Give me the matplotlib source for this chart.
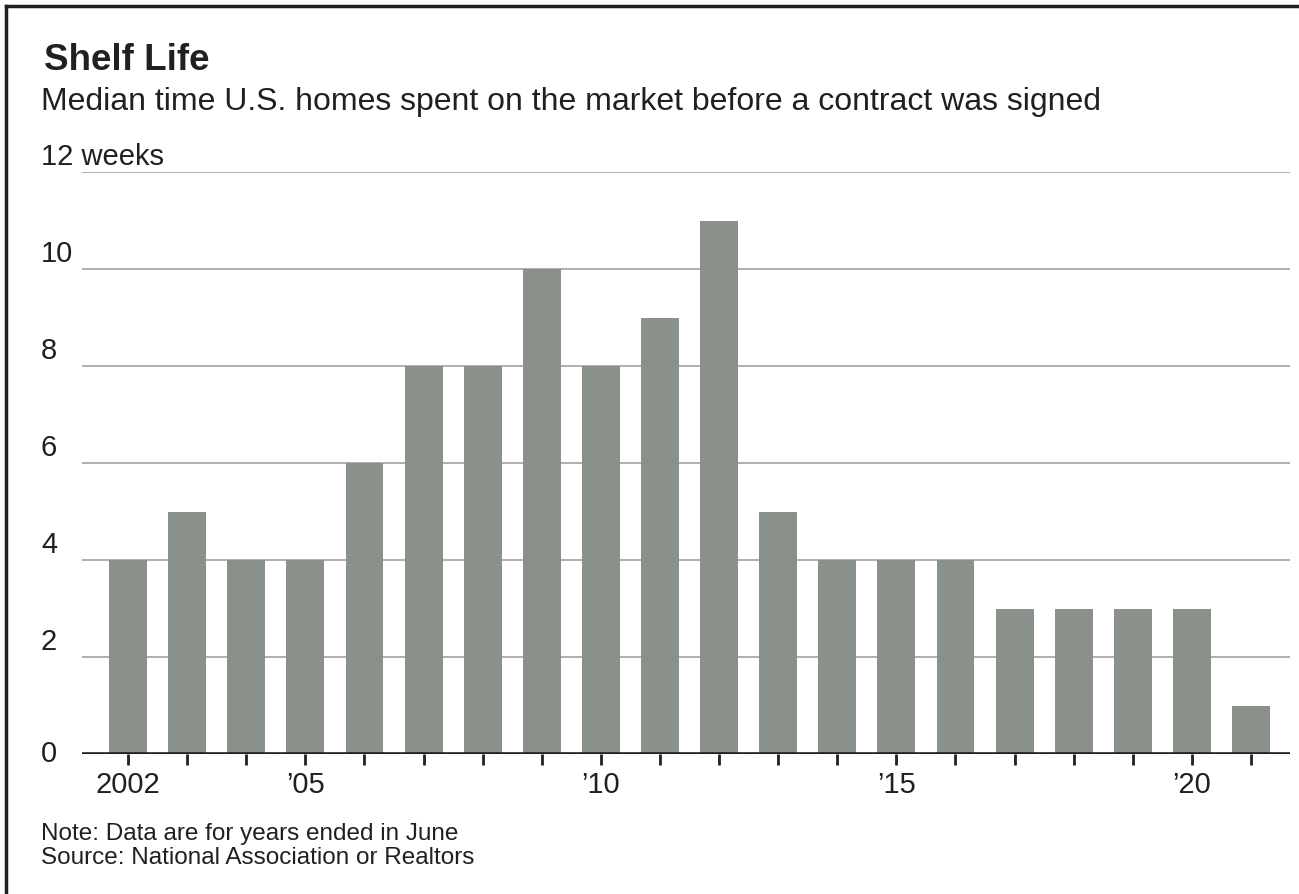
import matplotlib
matplotlib.use("Agg")
import matplotlib.pyplot as plt
from matplotlib.lines import Line2D
from matplotlib.transforms import blended_transform_factory, offset_copy

years = list(range(2002, 2022))
weeks = [4, 5, 4, 4, 6, 8, 8, 10, 8, 9, 11, 5, 4, 4, 4, 3, 3, 3, 3, 1]
y_ticks = [0, 2, 4, 6, 8, 10, 12]
y_labels = ["0", "2", "4", "6", "8", "10", "12 weeks"]
x_labels = {2002: "2002", 2005: "\u201905", 2010: "\u201910", 2015: "\u201915", 2020: "\u201920"}

BAR = "#8a918a"
INK = "#231f20"
GRID = "#9a9a9a"

plt.rcParams["font.family"] = ["Liberation Sans", "DejaVu Sans"]

W, H = 1299, 894
fig = plt.figure(figsize=(W / 100, H / 100), dpi=100)
fig.patch.set_facecolor("white")

def px(x, y):
    return x / W, 1 - y / H

# axes box: x 82..1290, y 172..754 (pixels)
ax = fig.add_axes([82 / W, (H - 754) / H, (1290 - 82) / W, (754 - 172) / H])
ax.bar(years, weeks, width=0.64, color=BAR, zorder=2)
ax.set_xlim(2001.22, 2021.66)
ax.set_ylim(0, 12)

for v in y_ticks[1:]:
    ax.axhline(v, color=GRID, lw=1.1, zorder=1)
ax.axhline(0, color=INK, lw=2.6, zorder=3)

for s in ax.spines.values():
    s.set_visible(False)
ax.set_yticks([])
ax.set_xticks(years)
ax.set_xticklabels([x_labels.get(y, "") for y in years], fontsize=21, color=INK)
ax.tick_params(axis="x", length=8, width=2, color=INK, pad=4, direction="out")

# y labels sit just above their gridlines, left aligned near the frame
tr = blended_transform_factory(fig.transFigure, ax.transData)
for v, lab in zip(y_ticks, y_labels):
    if v == 0:
        ax.text(41 / W, v, lab, transform=tr, ha="left", va="center",
                fontsize=21, color=INK)
    else:
        ax.text(41 / W, v, lab, ha="left", va="bottom", fontsize=21, color=INK,
                transform=offset_copy(tr, fig=fig, y=1, units="dots"))

# titles and notes
fig.text(*px(44, 70), "Shelf Life", fontsize=26.5, fontweight="bold", color=INK,
         ha="left", va="baseline")
fig.text(*px(41, 110), "Median time U.S. homes spent on the market before a contract was signed",
         fontsize=23, color=INK, ha="left", va="baseline")
fig.text(*px(41, 840), "Note: Data are for years ended in June", fontsize=17.5,
         color=INK, ha="left", va="baseline")
fig.text(*px(41, 864), "Source: National Association or Realtors", fontsize=17.5,
         color=INK, ha="left", va="baseline")

# frame along left and top edges
fig.add_artist(Line2D([6 / W, 6 / W], [0, 1 - 6 / H], transform=fig.transFigure,
                      color=INK, lw=2.5, solid_capstyle="projecting"))
fig.add_artist(Line2D([6 / W, 1], [1 - 6 / H, 1 - 6 / H], transform=fig.transFigure,
                      color=INK, lw=2.5, solid_capstyle="projecting"))

fig.savefig("out.png", dpi=100, facecolor="white")
